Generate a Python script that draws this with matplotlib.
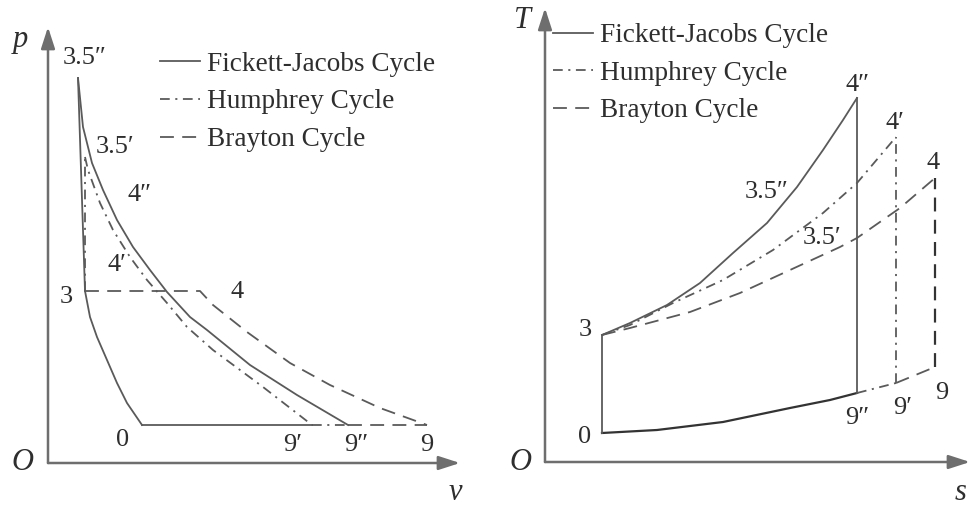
import matplotlib
matplotlib.use('Agg')
import matplotlib.pyplot as plt
from matplotlib.lines import Line2D

plt.rcParams['font.family'] = ['Liberation Serif', 'DejaVu Serif']
plt.rcParams['lines.scale_dashes'] = False

# p-v diagram (arbitrary units)
fj_exp_v = [30, 35, 44, 55, 69, 85, 102, 119, 142, 159, 202, 249, 300]
fj_exp_p = [385, 336, 300, 273, 243, 216, 193, 171, 146, 133, 98, 68, 38]
fj_rise_v = [37, 30]
fj_rise_p = [172, 385]
comp_v = [37, 42, 49, 59, 69, 79, 94]
comp_p = [172, 146, 126, 103, 80, 60, 38]
hu_rise_v = [37, 37]
hu_rise_p = [172, 306]
hu_exp_v = [37, 40, 52, 65, 82, 99, 119, 139, 165, 215, 264]
hu_exp_p = [306, 293, 260, 233, 206, 183, 160, 136, 113, 76, 38]
br_v = [37, 152, 165, 199, 242, 282, 332, 379]
br_p = [172, 172, 158, 131, 100, 78, 55, 38]
low_p = 38
v_0, v_9p, v_9pp, v_9 = 94, 264, 300, 379

pv_labels = ['3.5″', '3.5′', '4″', '4′', '3', '4', '0', '9′', '9″', '9']
pv_lab_v = [37, 67, 92, 69, 18, 189, 75, 245, 308, 379]
pv_lab_p = [405, 316, 268, 198, 166, 171, 23, 18, 18, 18]

# T-s diagram (arbitrary units)
fj_heat_s = [57, 85, 122, 155, 188, 222, 252, 278, 298, 312]
fj_heat_T = [127, 139, 157, 179, 209, 239, 275, 312, 342, 364]
fj_low_s = [57, 112, 178, 245, 285, 312]
fj_low_T = [29, 32, 40, 54, 62, 69]
hu_heat_s = [57, 85, 128, 178, 228, 278, 312, 351]
hu_heat_T = [127, 137, 159, 182, 212, 249, 279, 325]
br_heat_s = [57, 85, 145, 195, 245, 295, 312, 355, 390]
br_heat_T = [127, 134, 150, 169, 192, 215, 224, 254, 284]
s_9pp, s_9p, s_9 = 312, 351, 390
T_4pp, T_4p, T_4 = 364, 325, 284
T_9pp, T_9p, T_9 = 69, 79, 95

ts_labels = ['3', '0', '9″', '9′', '9', '4″', '4′', '4', '3.5″', '3.5′']
ts_lab_s = [40, 40, 312, 358, 397, 313, 350, 388, 222, 277]
ts_lab_T = [132, 25, 44, 54, 69, 377, 339, 299, 270, 224]

legend_names = ['Fickett-Jacobs Cycle', 'Humphrey Cycle', 'Brayton Cycle']

lc = '#5a5a5a'
ac = '#6e6e6e'
tc = '#2e2e2e'
lw = 1.3
dash = (0, (10, 6))
dashdot = (0, (7, 4, 1.5, 4))

fig = plt.figure(figsize=(9.71, 5.07), dpi=100)
ax1 = fig.add_axes([48 / 971, 44 / 507, 412 / 971, 436 / 507])
ax2 = fig.add_axes([545 / 971, 45 / 507, 425 / 971, 454 / 507])
ax1.set_xlim(0, 412)
ax1.set_ylim(0, 436)
ax2.set_xlim(0, 425)
ax2.set_ylim(0, 454)

for ax in (ax1, ax2):
    ax.axis('off')
    arrow = dict(arrowstyle='-|>,head_length=1.3,head_width=0.42', lw=1.8, color=ac,
                 shrinkA=0, shrinkB=0)
    ax.annotate('', xy=(1, 0), xytext=(0, 0), xycoords='axes fraction', arrowprops=arrow)
    ax.annotate('', xy=(0, 1), xytext=(0, 0), xycoords='axes fraction', arrowprops=arrow)

# p-v
ax1.plot(fj_exp_v, fj_exp_p, color=lc, lw=lw)
ax1.plot(fj_rise_v, fj_rise_p, color=lc, lw=lw)
ax1.plot(comp_v, comp_p, color=lc, lw=lw)
ax1.plot(hu_rise_v, hu_rise_p, color=lc, lw=lw, linestyle=dashdot)
ax1.plot(hu_exp_v, hu_exp_p, color=lc, lw=lw, linestyle=dashdot)
ax1.plot(br_v, br_p, color=lc, lw=lw, linestyle=dash)
ax1.plot([v_0, v_9p], [low_p, low_p], color=lc, lw=lw)
ax1.plot([v_9p, v_9pp], [low_p, low_p], color=lc, lw=lw, linestyle=dashdot)
ax1.plot([v_9pp, v_9], [low_p, low_p], color=lc, lw=lw, linestyle=dash)
for t, x, y in zip(pv_labels, pv_lab_v, pv_lab_p):
    ax1.text(x, y, t, fontsize=19, color=tc, ha='center', va='center')
ax1.text(-28, 423, 'p', fontsize=22, style='italic', color=tc, ha='center', va='center')
ax1.text(-26, 0, 'O', fontsize=22, style='italic', color=tc, ha='center', va='center')
ax1.text(407, -29, 'v', fontsize=22, style='italic', color=tc, ha='center', va='center')

# T-s
ax2.plot(fj_heat_s, fj_heat_T, color=lc, lw=lw)
ax2.plot(fj_low_s, fj_low_T, color='#333333', lw=1.6)
ax2.plot([fj_low_s[0], fj_low_s[0]], [fj_low_T[0], fj_heat_T[0]], color=lc, lw=lw)
ax2.plot([s_9pp, s_9pp], [T_9pp, T_4pp], color=lc, lw=lw)
ax2.plot(hu_heat_s, hu_heat_T, color=lc, lw=lw, linestyle=dashdot)
ax2.plot([s_9p, s_9p], [T_9p, T_4p], color=lc, lw=lw, linestyle=dashdot)
ax2.plot([s_9pp, s_9p], [T_9pp, T_9p], color=lc, lw=lw, linestyle=dashdot)
ax2.plot(br_heat_s, br_heat_T, color=lc, lw=lw, linestyle=dash)
ax2.plot([s_9, s_9], [T_9, T_4], color='#333333', lw=1.6, linestyle=dash)
ax2.plot([s_9p, s_9], [T_9p, T_9], color=lc, lw=lw, linestyle=dash)
for t, x, y in zip(ts_labels, ts_lab_s, ts_lab_T):
    ax2.text(x, y, t, fontsize=19, color=tc, ha='center', va='center')
ax2.text(-23, 442, 'T', fontsize=22, style='italic', color=tc, ha='center', va='center')
ax2.text(-25, 0, 'O', fontsize=22, style='italic', color=tc, ha='center', va='center')
ax2.text(416, -30, 's', fontsize=22, style='italic', color=tc, ha='center', va='center')

handles = [Line2D([], [], color=lc, lw=lw),
           Line2D([], [], color=lc, lw=lw, linestyle=dashdot),
           Line2D([], [], color=lc, lw=lw, linestyle=dash)]
for ax, anchor in ((ax1, (0.272, 0.943)), (ax2, (0.019, 0.967))):
    ax.legend(handles, legend_names, loc='upper left', bbox_to_anchor=anchor,
              frameon=False, fontsize=19.6, handlelength=1.45, handletextpad=0.26,
              labelspacing=0.46, borderpad=0, borderaxespad=0, labelcolor=tc)

fig.savefig('out.png', dpi=100)
